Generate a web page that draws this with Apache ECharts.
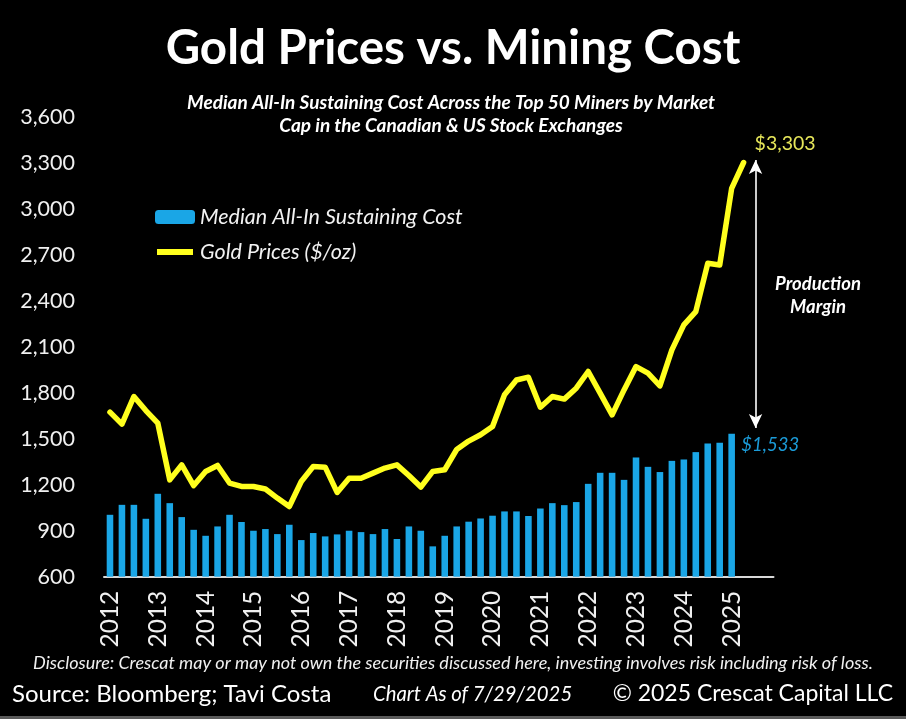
<!DOCTYPE html>
<html>
<head>
<meta charset="utf-8">
<script src="https://cdn.jsdelivr.net/npm/echarts@6/dist/echarts.min.js"></script>
<style>
html,body{margin:0;padding:0;background:#000;}
#chart{width:906px;height:719px;}
</style>
</head>
<body>
<div id="chart"></div>
<script>
// ---- data ----
const years = [2012, 2013, 2014, 2015, 2016, 2017, 2018, 2019, 2020, 2021, 2022, 2023, 2024, 2025];
const quarters = [];
years.forEach(function (y) { for (let q = 1; q <= 4; q++) quarters.push(y + ' Q' + q); });

// Median All-In Sustaining Cost, quarterly 2012 Q1 - 2025 Q1
const miningCost = [
  1004, 1069, 1069, 978, 1141, 1080, 989, 906, 867, 928, 1004, 957,
  900, 911, 878, 939, 839, 885, 863, 876, 900, 891, 878, 911,
  846, 928, 900, 798, 867, 928, 959, 980, 998, 1026, 1026, 996,
  1045, 1080, 1067, 1087, 1206, 1278, 1278, 1232, 1378, 1317, 1283, 1356,
  1365, 1413, 1469, 1474, 1533
];
// Gold price ($/oz), quarterly 2012 Q1 - 2025 Q2
const goldPrices = [
  1674, 1596, 1776, 1684, 1602, 1232, 1330, 1195, 1287, 1326, 1211, 1189,
  1189, 1172, 1113, 1058, 1221, 1319, 1315, 1150, 1243, 1243, 1276, 1309,
  1330, 1260, 1185, 1287, 1298, 1430, 1485, 1526, 1580, 1787, 1884, 1902,
  1706, 1776, 1759, 1830, 1939, 1798, 1656, 1819, 1971, 1928, 1845, 2080,
  2243, 2330, 2645, 2634, 3134, 3303
];
// production-margin arrow (annotation, value range on the y axis)
const arrowRange = [3320, 1570];
const arrowQuarter = quarters[54];

const seriesNames = ['Median All-In Sustaining Cost', 'Gold Prices ($/oz)'];
const FONT = 'Lato, "Noto Sans", sans-serif';
const BLUE = '#1aa6e6';
const YELLOW = '#ffff1e';

const fmt = function (v) { return '$' + Number(v).toLocaleString('en-US'); };

const lastCost = miningCost.length - 1;
const costData = miningCost.map(function (v, i) {
  if (i !== lastCost) return v;
  return {
    value: v,
    label: {
      show: true, position: [13, 2], align: 'left', verticalAlign: 'top',
      formatter: function (p) { return fmt(p.value); },
      color: '#1b9bd8', fontFamily: FONT, fontStyle: 'italic', fontSize: 18.5
    }
  };
});

const chart = echarts.init(document.getElementById('chart'));
chart.setOption({
  backgroundColor: '#000',
  animation: false,
  grid: { left: 104, right: 132.5, top: 117, bottom: 142.3, containLabel: false, outerBoundsMode: 'none' },
  legend: {
    orient: 'vertical', left: 150, top: 201, itemWidth: 40, itemHeight: 14, itemGap: 13,
    textStyle: { color: '#f2f2f2', fontFamily: FONT, fontStyle: 'italic', fontSize: 21.5 },
    data: [
      { name: seriesNames[0], icon: 'roundRect' },
      { name: seriesNames[1], icon: 'path://M0,0L0,0M40,14L40,14M2,4L38,4L38,10L2,10Z', itemStyle: { borderWidth: 0 } }
    ]
  },
  xAxis: {
    type: 'category', data: quarters, boundaryGap: true,
    axisLine: { show: true, lineStyle: { color: '#d8d8d8', width: 2 } },
    axisTick: { show: false },
    axisLabel: {
      interval: 3, rotate: 90, margin: 14, color: '#f0f0f0', fontFamily: FONT, fontSize: 24.5,
      formatter: function (v) { return v.slice(0, 4); }
    },
    splitLine: { show: false }
  },
  yAxis: {
    type: 'value', min: 600, max: 3600, interval: 300,
    axisLine: { show: false }, axisTick: { show: false }, splitLine: { show: false },
    axisLabel: {
      margin: 29, color: '#f0f0f0', fontFamily: FONT, fontSize: 21.5,
      formatter: function (v) { return Number(v).toLocaleString('en-US'); }
    }
  },
  series: [
    {
      name: seriesNames[0], type: 'bar', data: costData, barWidth: '55%',
      itemStyle: { color: BLUE }
    },
    {
      name: seriesNames[1], type: 'line', data: goldPrices, symbol: 'none', showSymbol: false,
      lineStyle: { color: YELLOW, width: 5.5, join: 'round', cap: 'round' },
      itemStyle: { color: YELLOW },
      endLabel: {
        show: true, distance: 0, offset: [11, -19], color: '#e6e65a', fontFamily: FONT, fontSize: 19.5,
        formatter: function (p) { return fmt(p.value); }
      },
      markLine: {
        silent: true, symbol: ['arrow', 'arrow'], symbolSize: [10, 14],
        lineStyle: { color: '#ffffff', width: 1.6, type: 'solid' },
        label: { show: false },
        data: [[{ coord: [arrowQuarter, arrowRange[0]] }, { coord: [arrowQuarter, arrowRange[1]] }]]
      }
    }
  ],
  graphic: [
    { type: 'text', x: 453, y: 49, style: { text: 'Gold Prices vs. Mining Cost', fill: '#fff', fontFamily: FONT, fontWeight: 'bold', fontSize: 47.5, align: 'center', verticalAlign: 'middle' } },
    { type: 'text', x: 451, y: 103, style: { text: 'Median All-In Sustaining Cost Across the Top 50 Miners by Market', fill: '#fff', fontFamily: FONT, fontWeight: 'bold', fontStyle: 'italic', fontSize: 19, align: 'center', verticalAlign: 'middle' } },
    { type: 'text', x: 451, y: 126, style: { text: 'Cap in the Canadian & US Stock Exchanges', fill: '#fff', fontFamily: FONT, fontWeight: 'bold', fontStyle: 'italic', fontSize: 19, align: 'center', verticalAlign: 'middle' } },
    { type: 'text', x: 818, y: 284, style: { text: 'Production', fill: '#fff', fontFamily: FONT, fontWeight: 'bold', fontStyle: 'italic', fontSize: 18.5, align: 'center', verticalAlign: 'middle' } },
    { type: 'text', x: 818, y: 307, style: { text: 'Margin', fill: '#fff', fontFamily: FONT, fontWeight: 'bold', fontStyle: 'italic', fontSize: 18.5, align: 'center', verticalAlign: 'middle' } },
    { type: 'text', x: 453, y: 663, style: { text: 'Disclosure: Crescat may or may not own the securities discussed here, investing involves risk including risk of loss.', fill: '#f0f0f0', fontFamily: FONT, fontStyle: 'italic', fontSize: 18, align: 'center', verticalAlign: 'middle' } },
    { type: 'text', x: 12, y: 694, style: { text: 'Source: Bloomberg; Tavi Costa', fill: '#fff', fontFamily: FONT, fontSize: 24, align: 'left', verticalAlign: 'middle' } },
    { type: 'text', x: 373, y: 694, style: { text: 'Chart As of 7/29/2025', fill: '#fff', fontFamily: FONT, fontStyle: 'italic', fontSize: 20.3, align: 'left', verticalAlign: 'middle' } },
    { type: 'text', x: 893, y: 694, style: { text: '\u00A9 2025 Crescat Capital LLC', fill: '#fff', fontFamily: FONT, fontSize: 23, align: 'right', verticalAlign: 'middle' } },
    { type: 'rect', shape: { x: 0, y: 716, width: 906, height: 3 }, style: { fill: '#5a5a5a' } }
  ]
});
</script>
</body>
</html>
